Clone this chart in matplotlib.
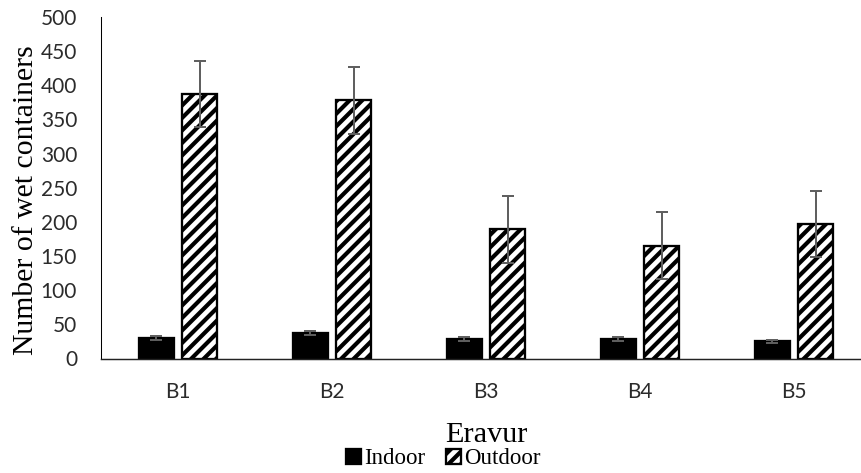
import numpy as np
import matplotlib
matplotlib.use("Agg")
import matplotlib.pyplot as plt

# wet containers per block, mean and error
blocks = ["B1", "B2", "B3", "B4", "B5"]
indoor = [30, 37, 28, 28, 25]
indoor_err = [3, 3, 3, 3, 2]
outdoor = [387, 378, 189, 165, 197]
outdoor_err = [48, 49, 49, 49, 48]

plt.rcParams["hatch.linewidth"] = 4.0
plt.rcParams["hatch.color"] = "black"

DPI = 75
fig = plt.figure(figsize=(861 / DPI, 473 / DPI), dpi=DPI)
ax = fig.add_axes([101 / 861, 1 - 358.5 / 473, 760 / 861, 341.5 / 473])

x = np.arange(len(blocks))
w = 0.23
off = 0.14
err_kw = dict(ecolor="#5f5f5f", elinewidth=1.9, capsize=5.8, capthick=1.9)

ax.bar(x - off, indoor, width=w, color="black", edgecolor="black", linewidth=2.2,
       yerr=indoor_err, error_kw=err_kw, label="Indoor", zorder=2)
ax.bar(x + off, outdoor, width=w, color="white", edgecolor="black", linewidth=2.2,
       hatch="//", yerr=outdoor_err, error_kw=err_kw, label="Outdoor", zorder=2)

ax.set_ylim(0, 500)
ax.set_yticks(np.arange(0, 501, 50))
ax.set_xlim(-0.5, -0.5 + 760 / 154)
ax.set_xticks(x)
ax.set_xticklabels(blocks)

for s in ["top", "right"]:
    ax.spines[s].set_visible(False)
ax.spines["left"].set_color("black")
ax.spines["left"].set_linewidth(1.0)
ax.spines["bottom"].set_color("#222222")
ax.spines["bottom"].set_linewidth(1.4)

ax.tick_params(axis="y", length=0, pad=23, labelsize=20, labelcolor="#2b2b2b")
ax.tick_params(axis="x", length=0, pad=23, labelsize=20, labelcolor="#2b2b2b")
for lab in ax.get_xticklabels() + ax.get_yticklabels():
    lab.set_family("Lato")

ax.set_ylabel("Number of wet containers", family="Liberation Serif", fontsize=28.5)
ax.yaxis.set_label_coords(-0.082, 0.465)
ax.set_xlabel("Eravur", family="Liberation Serif", fontsize=29)
ax.xaxis.label.set_va("baseline")
ax.xaxis.set_label_coords(0.507, -0.2436)

fig.legend(loc="center", bbox_to_anchor=(443 / 861, 1 - 459 / 473), ncol=2,
           frameon=False, prop={"family": "Liberation Serif", "size": 22},
           handlelength=0.68, handleheight=0.62, handletextpad=0.12,
           columnspacing=0.9, borderpad=0)

fig.savefig("out.png", dpi=DPI)
